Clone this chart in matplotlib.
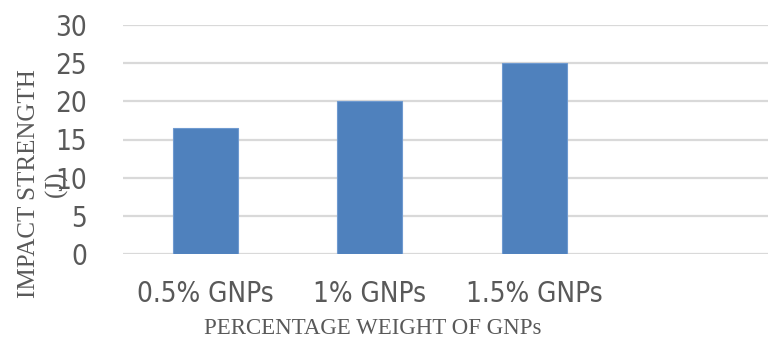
import numpy as np
import matplotlib.pyplot as plt

categories = ["0.5% GNPs", "1% GNPs", "1.5% GNPs", ""]
impact_strength = [16.5, 20, 25, np.nan]
y_ticks = [0, 5, 10, 15, 20, 25, 30]

bar_color = "#4f81bd"
grid_color = "#d9d9d9"
text_color = "#595959"
title_font = ["Liberation Serif", "DejaVu Serif"]

fig = plt.figure(figsize=(7.68, 3.4), dpi=100)
ax = fig.add_axes([123 / 768, 86 / 340, 1 - 123 / 768, (254 - 25) / 340])

x = np.arange(len(categories))
ax.bar(x, impact_strength, width=0.395, color=bar_color,
       edgecolor="#6f9ad0", linewidth=0.8, zorder=3)

ax.set_ylim(0, 30)
ax.set_xlim(-0.5, 3.42)
ax.set_yticks(y_ticks)
ax.set_xticks(x)
ax.set_xticklabels(categories)
ax.yaxis.grid(True, color=grid_color, linewidth=1.6, zorder=0)
ax.set_axisbelow(True)
for side in ["top", "right", "left", "bottom"]:
    ax.spines[side].set_visible(False)
ax.tick_params(axis="both", length=0, colors=text_color, labelsize=20)
ax.tick_params(axis="y", pad=26)
ax.tick_params(axis="x", pad=19)
for lab in ax.get_xticklabels() + ax.get_yticklabels():
    lab.set_family("DejaVu Sans")
    lab.set_stretch("condensed")

fig.text(373 / 768, 1 - 329 / 340, "PERCENTAGE WEIGHT OF GNPs",
         family=title_font, fontsize=16.5, color=text_color,
         ha="center", va="center")
fig.text(43 / 768, 1 - 184 / 340, "IMPACT STRENGTH\n(J)",
         family=title_font, fontsize=18, color=text_color,
         ha="center", va="center", rotation=90, linespacing=1.25,
         multialignment="center")

fig.savefig("out.png", dpi=100)
